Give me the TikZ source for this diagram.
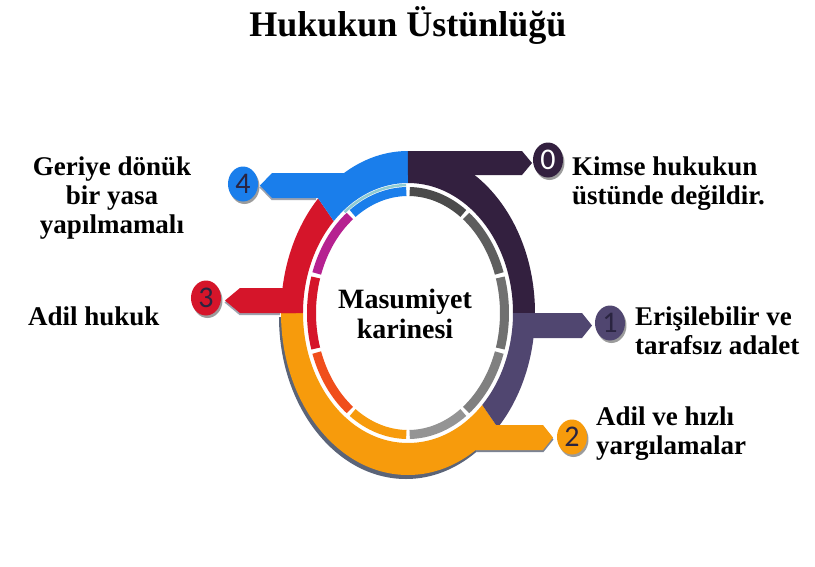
\documentclass[tikz,border=0pt]{standalone}
\usepackage{fontspec}
\setmainfont{Liberation Serif}
\newfontfamily\numfont{Carlito}
\usetikzlibrary{shapes.geometric,shadows}

\definecolor{darkplum}{HTML}{33203F}
\definecolor{lightplum}{HTML}{504670}
\definecolor{ringorange}{HTML}{F79B0C}
\definecolor{ringred}{HTML}{D5152A}
\definecolor{ringblue}{HTML}{1A7EEB}
\definecolor{ringmagenta}{HTML}{B62190}
\definecolor{ringflame}{HTML}{F04E1C}
\definecolor{ringshadow}{HTML}{5B6478}
\definecolor{ringteal}{HTML}{8FCBD3}
\definecolor{numink}{HTML}{2A2440}
\definecolor{grayA}{HTML}{4B4B4B}
\definecolor{grayB}{HTML}{5E5E5E}
\definecolor{grayC}{HTML}{707070}
\definecolor{grayD}{HTML}{808080}
\definecolor{grayE}{HTML}{949494}

\begin{document}
\begin{tikzpicture}[x=1pt,y=1pt]
    \tikzset{
      numbadge/.style={ellipse,minimum width=30,minimum height=35,inner sep=0pt,font=\numfont\fontsize{30}{30}\selectfont,text=numink,drop shadow={shadow xshift=1.5pt,shadow yshift=-2.5pt,fill=black!55,opacity=0.7}},
      itemtext/.style={font=\fontsize{27}{29}\selectfont\bfseries,inner sep=0pt,align=left},
      titletext/.style={font=\fontsize{36}{40}\selectfont\bfseries,inner sep=0pt}
    }
    \fill[white] (-408,-253) rectangle (407,313);
    \useasboundingbox (-408,-253) rectangle (407,313);

    % outer band
    \fill[ringorange,drop shadow={shadow xshift=-2pt,shadow yshift=-4pt,fill=ringshadow,opacity=1}] (-180:127 and 162) arc[start angle=-180,end angle=-45,x radius=127,y radius=162] -- (-45:105 and 130) arc[start angle=-45,end angle=-180,x radius=105,y radius=130] -- cycle;
    \foreach \from/\to/\col in {0/90/darkplum,-45/0/lightplum,135/180/ringred,90/135/ringblue}
      \fill[\col] (\from:127 and 162) arc[start angle=\from,end angle=\to,x radius=127,y radius=162] -- (\to:105 and 130) arc[start angle=\to,end angle=\from,x radius=105,y radius=130] -- cycle;

    % bars
    \fill[ringshadow!80] (68,-114) -- (135.5,-114) -- (145.5,-126.5) -- (135.5,-139) -- (68,-139) -- cycle;
    \fill[ringshadow!60] (-128,-2) -- (-168.5,-2) -- (-183.5,10.5) -- (-168.5,23) -- (-128,23) -- cycle;
    \fill[ringshadow!60] (-92,113) -- (-136.5,113) -- (-148.5,125.5) -- (-136.5,138) -- (-92,138) -- cycle;
    \fill[darkplum] (0,162) -- (114,162) -- (124,150) -- (114,138) -- (0,138) -- cycle;
    \fill[lightplum] (108,0) -- (174,0) -- (184,-12.5) -- (174,-25) -- (108,-25) -- cycle;
    \fill[ringorange] (55,-112) -- (135,-112) -- (145,-124.5) -- (135,-137) -- (55,-137) -- cycle;
    \fill[ringred] (-112,0) -- (-168,0) -- (-183,12.5) -- (-168,25) -- (-112,25) -- cycle;
    \fill[ringblue] (-60,115) -- (-136,115) -- (-148,127.5) -- (-136,140) -- (-60,140) -- cycle;
    \draw[ringteal,line width=2.5] (91:103 and 128) arc[start angle=91,end angle=128,x radius=103,y radius=128];

    % inner ring
    \foreach \a/\col [evaluate=\a as \s using \a+1, evaluate=\a as \e using \a+35] in {54/grayA,18/grayB,-18/grayC,-54/grayD,-90/grayE,-126/ringorange,-162/ringflame,162/ringred,126/ringmagenta,90/ringblue}
      \draw[\col,line width=9] (\s:96.5 and 121.5) arc[start angle=\s,end angle=\e,x radius=96.5,y radius=121.5];

    % badges
    \node[numbadge,fill=darkplum,text=white] (numzero) at (140,153) {0};
    \node[numbadge,fill=lightplum] (numone) at (202,-10) {1};
    \node[numbadge,fill=ringorange] (numtwo) at (164,-124) {2};
    \node[numbadge,fill=ringred] (numthree) at (-202,15) {3};
    \node[numbadge,fill=ringblue] (numfour) at (-165,129) {4};

    % texts (base = last line)
    \node[titletext,anchor=base] (title) at (0,277) {Hukukun Üstünlüğü};
    \node[itemtext,font=\fontsize{28}{30}\selectfont\bfseries,align=center,anchor=base] (masumiyet) at (-3,-25) {Masumiyet\\karinesi};
    \node[itemtext,anchor=base west] (kimse) at (164,109) {Kimse hukukun\\üstünde değildir.};
    \node[itemtext,anchor=base west] (erisim) at (227,-41) {Erişilebilir ve\\tarafsız adalet};
    \node[itemtext,anchor=base west] (hizli) at (188,-141) {Adil ve hızlı\\yargılamalar};
    \node[itemtext,align=center,anchor=base] (geriye) at (-296,80) {Geriye dönük\\bir yasa\\yapılmamalı};
    \node[itemtext,anchor=base west] (adilhukuk) at (-380,-12) {Adil hukuk};
\end{tikzpicture}
\end{document}
